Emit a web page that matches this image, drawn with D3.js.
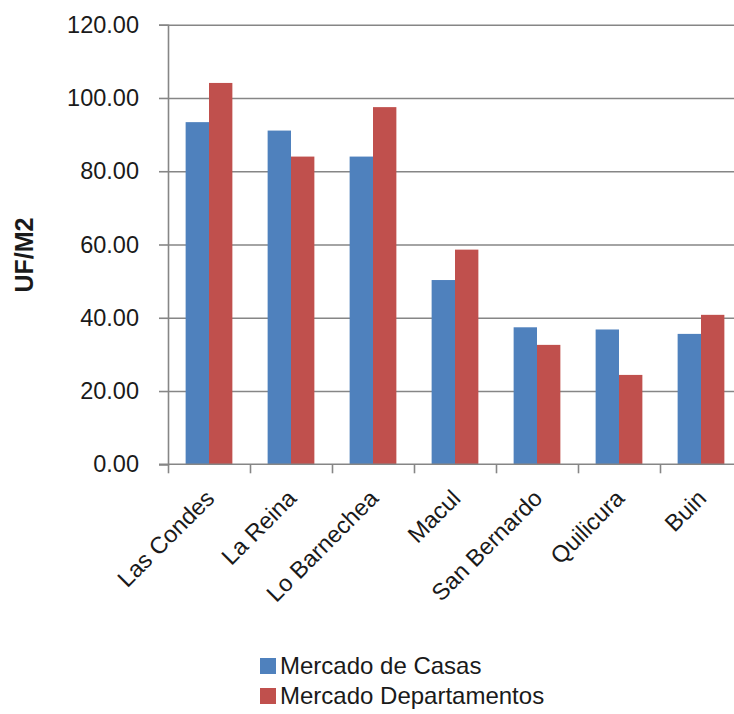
<!DOCTYPE html>
<html>
<head>
<meta charset="utf-8">
<script src="https://cdn.jsdelivr.net/npm/d3@7"></script>
<style>
  html, body { margin: 0; padding: 0; background: #fff; }
  svg { display: block; }
  text { font-family: "Liberation Sans", Arial, sans-serif; fill: #1a1a1a; }
</style>
</head>
<body>
<svg id="chart" width="734" height="714"></svg>
<script>
const categories = ["Las Condes", "La Reina", "Lo Barnechea", "Macul", "San Bernardo", "Quilicura", "Buin"];
const seriesNames = ["Mercado de Casas", "Mercado Departamentos"];
const casas = [93.4, 91.1, 84.0, 50.3, 37.4, 36.8, 35.6];
const departamentos = [104.1, 84.0, 97.5, 58.6, 32.6, 24.4, 40.8];
const yTicks = [0, 20, 40, 60, 80, 100, 120];
const colors = ["#4F81BD", "#C0504D"];

(function () {
const svg = d3.select("#chart");
const mLeft = 168, mRight = 742, mTop = 24.7, mBottom = 464.3;

const x = d3.scaleBand().domain(categories).range([mLeft, mRight])
  .paddingInner(0.43).paddingOuter(0.215);
const x1 = d3.scaleBand().domain(seriesNames).range([0, x.bandwidth()]).padding(0);
const y = d3.scaleLinear().domain([0, 120]).range([mBottom, mTop]);

// gridlines
svg.append("g")
  .attr("transform", `translate(${mLeft},0)`)
  .call(d3.axisLeft(y).tickValues(yTicks.filter(d => d > 0)).tickSize(-(mRight - mLeft)).tickFormat(""))
  .call(g => g.select(".domain").remove())
  .call(g => g.selectAll("line").attr("stroke", "#868686").attr("stroke-width", 1.6));

// bars
const data = categories.map((c, i) => ({ cat: c, vals: [casas[i], departamentos[i]] }));
const groups = svg.append("g").selectAll("g").data(data).join("g")
  .attr("transform", d => `translate(${x(d.cat)},0)`);
groups.selectAll("rect").data(d => d.vals.map((v, j) => ({ v, s: seriesNames[j], j })))
  .join("rect")
  .attr("x", d => x1(d.s))
  .attr("width", x1.bandwidth())
  .attr("y", d => y(d.v))
  .attr("height", d => mBottom - y(d.v))
  .attr("fill", d => colors[d.j]);

// y axis
svg.append("g")
  .attr("transform", `translate(${mLeft},0)`)
  .call(d3.axisLeft(y).tickValues(yTicks).tickFormat(d3.format(".2f")).tickSize(9).tickPadding(20))
  .call(g => g.select(".domain").attr("stroke", "#868686").attr("stroke-width", 1.6))
  .call(g => g.selectAll("line").attr("stroke", "#868686").attr("stroke-width", 1.6))
  .call(g => g.selectAll("text").attr("font-size", 23.5).attr("font-family", "Liberation Sans, Arial, sans-serif").attr("fill", "#1a1a1a"));

// x axis with boundary ticks
const xb = d3.scaleLinear().domain([0, categories.length]).range([mLeft, mLeft + x.step() * categories.length]);
svg.append("g")
  .attr("transform", `translate(0,${mBottom})`)
  .call(d3.axisBottom(xb).tickValues(d3.range(0, categories.length + 1)).tickFormat("").tickSize(9).tickSizeOuter(0))
  .call(g => g.select(".domain").attr("stroke", "#868686").attr("stroke-width", 1.6).attr("d", `M${mLeft - 9},0H${mRight}`))
  .call(g => g.selectAll("line").attr("stroke", "#868686").attr("stroke-width", 1.6));

// category labels
svg.append("g").selectAll("text").data(categories).join("text")
  .attr("transform", d => `translate(${x(d) + x.bandwidth() / 2 + 1},494) rotate(-45)`)
  .attr("text-anchor", "end")
  .attr("dy", "0.35em")
  .attr("font-size", 23.5)
  .text(d => d);

// y title
svg.append("text")
  .attr("transform", "translate(33,255) rotate(-90)")
  .attr("text-anchor", "middle")
  .attr("font-size", 25)
  .attr("font-weight", "bold")
  .attr("fill", "#000")
  .text("UF/M2");

// legend
const legend = svg.append("g").selectAll("g").data(seriesNames).join("g")
  .attr("transform", (d, i) => `translate(260,${658 + i * 30})`);
legend.append("rect").attr("width", 16).attr("height", 16).attr("fill", (d, i) => colors[i]);
legend.append("text").attr("x", 20).attr("y", 16).attr("font-size", 24).text(d => d);
})();
</script>
</body>
</html>
